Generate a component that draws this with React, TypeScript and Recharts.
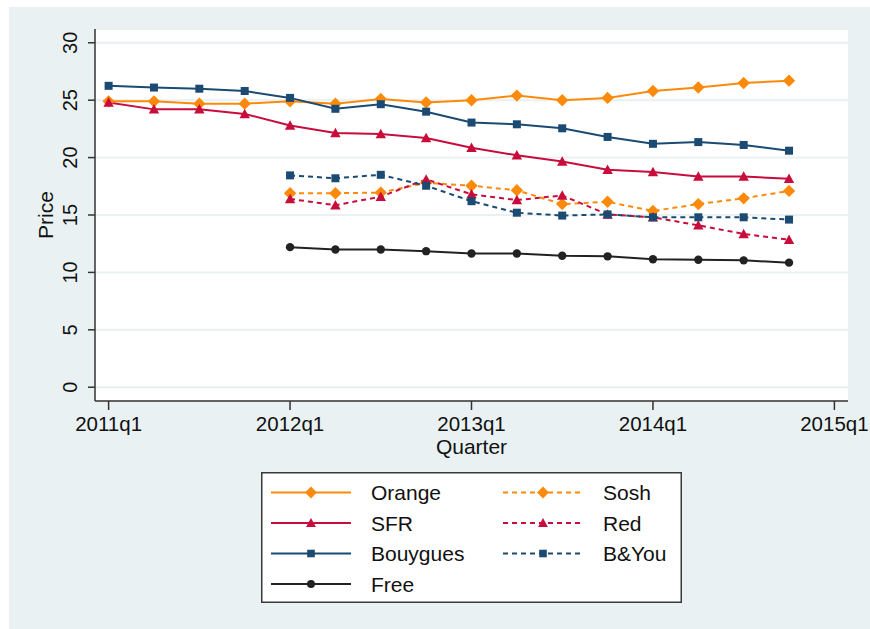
import React from "react";
import { LineChart, Line, XAxis, YAxis, CartesianGrid, Legend } from "recharts";

const quarters = [
	"2011q1", "2011q2", "2011q3", "2011q4",
	"2012q1", "2012q2", "2012q3", "2012q4",
	"2013q1", "2013q2", "2013q3", "2013q4",
	"2014q1", "2014q2", "2014q3", "2014q4",
];
const xTickLabels = ["2011q1", "2012q1", "2013q1", "2014q1", "2015q1"];
const yTicks = [0, 5, 10, 15, 20, 25, 30];

const orange = [24.9, 24.9, 24.7, 24.7, 24.9, 24.7, 25.1, 24.8, 25.0, 25.4, 25.0, 25.2, 25.8, 26.1, 26.5, 26.7];
const sfr = [24.8, 24.2, 24.2, 23.8, 22.8, 22.15, 22.05, 21.7, 20.85, 20.2, 19.65, 18.95, 18.75, 18.35, 18.35, 18.15];
const bouygues = [26.25, 26.1, 26.0, 25.8, 25.2, 24.25, 24.65, 24.0, 23.05, 22.9, 22.55, 21.8, 21.2, 21.35, 21.1, 20.6];
const free = [null, null, null, null, 12.2, 12.0, 12.0, 11.85, 11.65, 11.65, 11.45, 11.4, 11.15, 11.1, 11.05, 10.85];
const sosh = [null, null, null, null, 16.9, 16.9, 16.95, 17.8, 17.55, 17.15, 15.95, 16.15, 15.35, 15.95, 16.45, 17.1];
const red = [null, null, null, null, 16.4, 15.85, 16.6, 18.1, 16.8, 16.3, 16.7, 15.05, 14.8, 14.1, 13.35, 12.85];
const bandyou = [null, null, null, null, 18.45, 18.2, 18.5, 17.55, 16.2, 15.2, 14.95, 15.05, 14.8, 14.8, 14.8, 14.6];

const FONT = '"Liberation Sans", Arial, Helvetica, sans-serif';
const C_ORANGE = "#fc8a0a";
const C_RED = "#c80d3c";
const C_NAVY = "#1b4a72";
const C_BLACK = "#222222";
const BG = "#e9f1f3";

type Shape = "diamond" | "triangle" | "square" | "circle";

const series: { key: string; name: string; color: string; shape: Shape; dashed: boolean; values: (number | null)[] }[] = [
	{ key: "orange", name: "Orange", color: C_ORANGE, shape: "diamond", dashed: false, values: orange },
	{ key: "sfr", name: "SFR", color: C_RED, shape: "triangle", dashed: false, values: sfr },
	{ key: "bouygues", name: "Bouygues", color: C_NAVY, shape: "square", dashed: false, values: bouygues },
	{ key: "free", name: "Free", color: C_BLACK, shape: "circle", dashed: false, values: free },
	{ key: "sosh", name: "Sosh", color: C_ORANGE, shape: "diamond", dashed: true, values: sosh },
	{ key: "red", name: "Red", color: C_RED, shape: "triangle", dashed: true, values: red },
	{ key: "bandyou", name: "B&You", color: C_NAVY, shape: "square", dashed: true, values: bandyou },
];

const data = quarters.map((label, i) => {
	const row: Record<string, any> = { q: i, label };
	series.forEach(s => {
		row[s.key] = s.values[i];
	});
	return row;
});

function Marker({ cx, cy, shape, color, scale = 1 }: { cx: number; cy: number; shape: Shape; color: string; scale?: number }) {
	if (shape === "diamond") {
		const r = 6.2 * scale;
		return <polygon points={`${cx},${cy - r} ${cx + r},${cy} ${cx},${cy + r} ${cx - r},${cy}`} fill={color} />;
	}
	if (shape === "triangle") {
		const h = 8.5 * scale;
		const w = 5.2 * scale;
		return <polygon points={`${cx},${cy - h / 2 - 1} ${cx + w},${cy + h / 2} ${cx - w},${cy + h / 2}`} fill={color} />;
	}
	if (shape === "square") {
		const s = 8 * scale;
		return <rect x={cx - s / 2} y={cy - s / 2} width={s} height={s} fill={color} />;
	}
	return <circle cx={cx} cy={cy} r={4.2 * scale} fill={color} />;
}

function renderDot(shape: Shape, color: string) {
	return (p: any) => {
		if (p.cy == null || p.value == null) return <g key={p.index} />;
		return <Marker key={p.index} cx={p.cx} cy={p.cy} shape={shape} color={color} />;
	};
}

function YTick({ x, y, payload }: any) {
	return (
		<text transform={`translate(${x},${y}) rotate(-90)`} textAnchor="middle" fontFamily={FONT} fontSize={20} fill="#111">
			{payload.value}
		</text>
	);
}

function XTick({ x, y, payload }: any) {
	return (
		<text x={x} y={y + 20} textAnchor="middle" fontFamily={FONT} fontSize={20.5} fill="#111">
			{xTickLabels[payload.value / 4]}
		</text>
	);
}

function LegendBox() {
	const col1 = series.filter(s => !s.dashed);
	const col2 = series.filter(s => s.dashed);
	const row = (i: number) => 20.5 + 30.5 * i;
	const item = (s: typeof series[number], i: number, x0: number) => (
		<g key={s.key}>
			<line x1={x0} x2={x0 + 80} y1={row(i)} y2={row(i)} stroke={s.color} strokeWidth={2} strokeDasharray={s.dashed ? "5 4" : undefined} />
			<Marker cx={x0 + 40} cy={row(i)} shape={s.shape} color={s.color} scale={0.95} />
			<text x={x0 + 100} y={row(i) + 7.5} fontFamily={FONT} fontSize={21} fill="#111">
				{s.name}
			</text>
		</g>
	);
	return (
		<svg width={421} height={131} style={{ display: "block" }}>
			<rect x={0.75} y={0.75} width={419.5} height={129.5} fill="#fff" stroke="#3a3a3a" strokeWidth={1.5} />
			{col1.map((s, i) => item(s, i, 10))}
			{col2.map((s, i) => item(s, i, 242))}
		</svg>
	);
}

export default function App() {
	return (
		<div style={{ position: "absolute", left: 0, top: 0, width: 870, height: 629, background: "#fff" }}>
			<div style={{ position: "absolute", left: 9, top: 7, width: 861, height: 622, background: BG }} />
			<div style={{ position: "absolute", left: 0, top: 0 }}>
				<LineChart width={870} height={629} data={data} margin={{ top: 29, right: 22, bottom: 168, left: 0 }}>
					<CartesianGrid vertical={false} horizontal stroke={BG} strokeWidth={2} fill="#ffffff" fillOpacity={1} />
					<XAxis
						dataKey="q"
						type="number"
						domain={[-0.3, 16.3]}
						ticks={[0, 4, 8, 12, 16]}
						allowDataOverflow
						height={60}
						tickSize={9}
						tickMargin={1}
						tick={<XTick />}
						axisLine={{ stroke: "#333", strokeWidth: 1.5 }}
						tickLine={{ stroke: "#333", strokeWidth: 1.5 }}
						label={{
							content: () => (
								<text x={471.5} y={454} textAnchor="middle" fontFamily={FONT} fontSize={21} fill="#111">
									Quarter
								</text>
							),
						}}
					/>
					<YAxis
						type="number"
						domain={[-1.2, 31.2]}
						ticks={yTicks}
						allowDataOverflow
						width={95}
						tickSize={7}
						tickMargin={11}
						tick={<YTick />}
						axisLine={{ stroke: "#333", strokeWidth: 1.5 }}
						tickLine={{ stroke: "#333", strokeWidth: 1.5 }}
						label={{
							content: (p: any) => {
								const vb = p.viewBox || { y: 29, height: 372 };
								return (
									<text transform={`translate(53,${vb.y + vb.height / 2}) rotate(-90)`} textAnchor="middle" fontFamily={FONT} fontSize={21} fill="#111">
										Price
									</text>
								);
							},
						}}
					/>
					<Legend
						layout="vertical"
						align="center"
						verticalAlign="middle"
						content={() => <LegendBox />}
						wrapperStyle={{ left: 261, top: 472, width: 421, height: 131 }}
					/>
					{series.map(s => (
						<Line
							key={s.key}
							dataKey={s.key}
							name={s.name}
							stroke={s.color}
							strokeWidth={2}
							strokeDasharray={s.dashed ? "5 4" : undefined}
							dot={renderDot(s.shape, s.color)}
							activeDot={false}
							isAnimationActive={false}
							connectNulls={false}
						/>
					))}
				</LineChart>
			</div>
		</div>
	);
}
